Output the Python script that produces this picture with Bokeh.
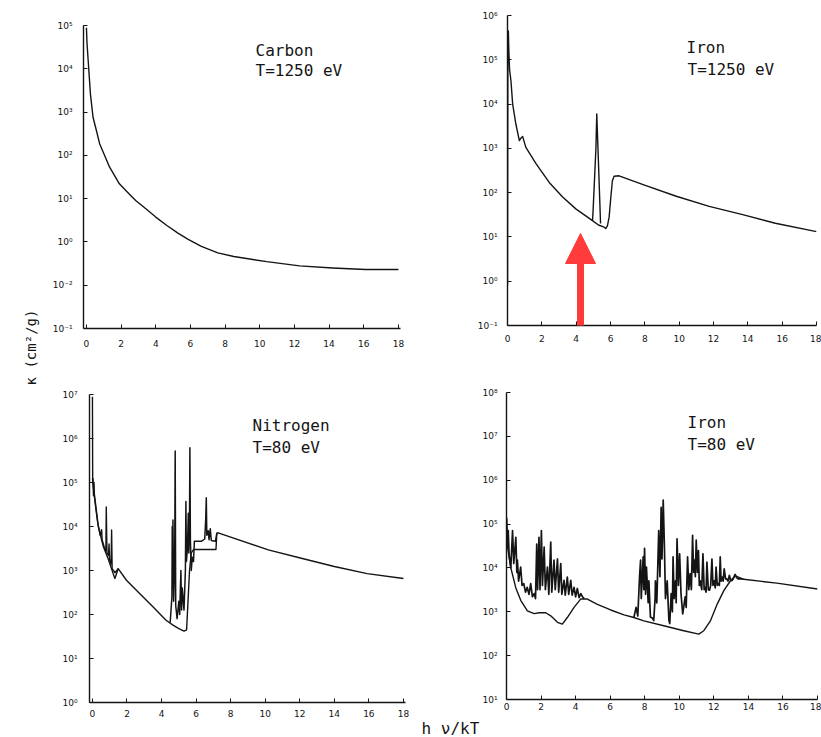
import json
import math
from bokeh.plotting import figure
from bokeh.layouts import row, column
from bokeh.models import (Label, Arrow, NormalHead, FixedTicker,
                          CustomJSTickFormatter, Range1d)
from bokeh.embed import file_html
from bokeh.resources import INLINE

# ---------------------------------------------------------------- data
x_ticks = [0, 2, 4, 6, 8, 10, 12, 14, 16, 18]

carbon_x = [0.0, 0.03, 0.1, 0.23, 0.38, 0.57, 0.76, 1.0, 1.33, 1.9, 2.37, 2.84,
            3.41, 3.98, 4.64, 5.3, 5.87, 6.63, 7.58, 8.5, 10.4, 12.3, 14.2,
            16.1, 18.0]
carbon_k = [8.9e4, 4.0e4, 1.55e4, 2.6e3, 760, 380, 186, 110, 54, 22, 14, 9.1,
            5.9, 3.8, 2.4, 1.58, 1.15, 0.79, 0.56, 0.46, 0.35, 0.28, 0.25,
            0.23, 0.23]

iron_hot_x = [0.0, 0.02, 0.05, 0.08, 0.12, 0.2, 0.3, 0.49, 0.69, 0.78, 0.88,
              1.07, 1.66, 2.43, 3.21, 3.98, 4.95, 5.3, 5.63, 5.72, 5.82, 5.92,
              6.02, 6.11, 6.21, 6.5, 7.9, 9.83, 11.75, 13.7, 15.6, 18.0]
iron_hot_k = [0.8, 2.0e5, 4.5e5, 1.5e5, 6.0e4, 3.4e4, 1.0e4, 3.5e3, 1.5e3,
              1.7e3, 1.86e3, 1.05e3, 450, 170, 80, 43, 23.4, 18.6, 16.6, 15.5,
              17.8, 28, 80, 186, 234, 240, 151, 83, 49, 32, 20.4, 13.2]
iron_hot_line_x = [4.95, 4.98, 5.15, 5.2, 5.27, 5.42]
iron_hot_line_k = [23, 35, 1000, 6000, 1000, 20]

nitrogen_x = [0.0, 0.05, 0.15, 0.34, 0.63, 0.92, 1.2, 1.3, 1.49, 1.97, 2.73,
              3.5, 4.26, 4.64, 5.0, 5.3, 5.45, 5.52, 5.62, 5.72, 5.85, 7.15,
              7.2, 7.32, 10.18, 12.09, 14.0, 15.9, 18.0]
nitrogen_k = [1.26e5, 7.9e4, 4.1e4, 1.0e4, 3.5e3, 1.8e3, 850, 660, 1.1e3, 600,
              300, 150, 74, 58, 48, 42, 45, 160, 1000, 2500, 3000, 3000,
              7100, 7100, 2950, 1900, 1230, 850, 660]
nitrogen_lines_x = [0.0, 0.015, 0.03, 0.06, 0.09, 0.12, 0.2, 0.3, 0.45, 0.53,
                    0.56, 0.7, 0.78, 0.8, 0.84, 0.93, 0.96, 0.99, 1.08, 1.11,
                    1.14, 1.3, 1.49]
nitrogen_lines_k = [8.9e6, 1.0e5, 1.26e5, 5.0e4, 1.0e5, 4.5e4, 2.5e4, 1.26e4,
                    6300, 8500, 5000, 3200, 2800, 2.8e4, 2500, 2200, 4000,
                    1800, 1400, 8300, 1100, 890, 1100]
nitrogen_edge_x = [4.5, 4.6, 4.62, 4.64, 4.66, 4.7, 4.76, 4.79, 4.82, 4.9,
                   5.0, 5.05, 5.12, 5.16, 5.2, 5.3, 5.38, 5.41, 5.44, 5.5,
                   5.55, 5.58, 5.62, 5.64, 5.67, 5.72, 5.78, 5.85, 5.9, 6.3,
                   6.5, 6.56, 6.59, 6.62, 6.7, 6.75, 6.82, 6.88, 7.12, 7.2]
nitrogen_edge_k = [66, 250, 1.0e4, 400, 1.4e4, 200, 1600, 5.2e5, 160, 80,
                   200, 100, 1000, 126, 400, 126, 1000, 3.7e4, 1600, 3200,
                   2.0e4, 2500, 1.6e4, 6.2e5, 5000, 1000, 2000, 1600, 4600,
                   4600, 5200, 1.6e4, 4.5e4, 6300, 8000, 5000, 8900, 4800,
                   4600, 7100]

iron_cool_x = [0.0, 0.06, 0.25, 0.54, 0.83, 1.21, 1.6, 1.89, 2.27, 2.56, 2.95,
               3.23, 3.52, 3.91, 4.29, 4.68, 5.26, 6.03, 6.8, 7.37, 7.95, 9.1,
               10.26, 11.13, 11.42, 11.8, 12.19, 12.57, 12.96, 13.25, 13.73,
               15.65, 18.0]
iron_cool_k = [1.4e5, 3.0e4, 1.0e4, 3500, 1800, 1050, 910, 950, 950, 810, 575,
               525, 740, 1260, 1950, 1950, 1480, 1100, 850, 740, 620, 480, 370,
               310, 370, 620, 1480, 3000, 5100, 6600, 5500, 4500, 3300]
iron_cool_lines_a_x = [0.0, 0.05, 0.1, 0.15, 0.25, 0.35, 0.42, 0.54, 0.6, 0.63,
                       0.7, 0.82, 0.9, 1.0, 1.1, 1.2, 1.3, 1.4, 1.5, 1.6, 1.68,
                       1.75, 1.8, 1.88, 1.94, 2.02, 2.08, 2.18, 2.25, 2.37,
                       2.45, 2.56, 2.62, 2.75, 2.82, 2.95, 3.02, 3.14, 3.2,
                       3.33, 3.4, 3.52, 3.6, 3.72, 3.8, 3.91, 4.0, 4.1, 4.2,
                       4.3, 4.4, 4.5]
iron_cool_lines_a_k = [1.4e5, 3.2e4, 7.1e4, 2.0e4, 1.0e4, 7.1e4, 1.26e4, 5.0e4,
                       7900, 1.5e4, 5000, 1.05e4, 4000, 4400, 2800, 3600, 2500,
                       4400, 2200, 2600, 2000, 3.5e4, 3200, 5.0e4, 3200,
                       7.1e4, 4000, 3.0e4, 3200, 1.05e4, 2500, 3.9e4, 2800,
                       1.5e4, 3200, 1.6e4, 2800, 1.26e4, 2500, 5200, 2400,
                       6200, 2500, 5200, 2400, 3600, 2200, 3400, 2100, 2600,
                       2200, 2000]
iron_cool_lines_b_x = [7.37, 7.5, 7.6, 7.7, 7.76, 7.8, 7.91, 7.95, 7.99, 8.05,
                       8.1, 8.2, 8.24, 8.33, 8.45, 8.52, 8.6, 8.62, 8.7, 8.81,
                       8.88, 8.95, 9.0, 9.07, 9.14, 9.2, 9.3, 9.4, 9.45, 9.53,
                       9.6, 9.64, 9.7, 9.78, 9.82, 9.87, 9.95, 10.02, 10.1,
                       10.2, 10.34, 10.4, 10.48, 10.55, 10.63, 10.7, 10.77,
                       10.83, 10.88, 10.93, 10.98, 11.05, 11.11, 11.16, 11.21,
                       11.3, 11.37, 11.44, 11.5, 11.55, 11.6, 11.68, 11.75,
                       11.82, 11.89, 11.95, 12.02, 12.08, 12.13, 12.2, 12.27,
                       12.32, 12.37, 12.42, 12.48, 12.54, 12.6, 12.68, 12.75,
                       12.82, 12.9, 12.97, 13.04, 13.12, 13.23, 13.32, 13.42,
                       13.71]
iron_cool_lines_b_k = [740, 1260, 800, 6300, 1.5e4, 2000, 1.8e4, 3200, 2.8e4,
                       2500, 1.05e4, 1600, 5100, 760, 710, 630, 2000, 5100,
                       1600, 7.1e4, 6300, 2.4e5, 1.6e4, 3.5e5, 3.0e4, 2000,
                       5100, 630, 540, 2600, 1000, 1.8e4, 2000, 5100, 1600,
                       4.6e4, 4000, 2.1e4, 2600, 890, 2200, 1260, 1.8e4, 3200,
                       7400, 3200, 5.5e4, 7900, 1.5e4, 6300, 4.3e4, 7900,
                       2.5e4, 4000, 5100, 3200, 2.1e4, 3200, 3600, 2800,
                       1.35e4, 3200, 3100, 4000, 1.6e4, 4000, 5100, 3500,
                       1.05e4, 4000, 4400, 4000, 1.8e4, 5000, 6200, 5000, 9500,
                       5600, 5600, 5000, 6800, 5200, 5100, 5600, 7100, 6000,
                       5600, 5600]

# y tick labels as printed on each panel (exponent -> label)
carbon_ylabels = {5: "10⁵", 4: "10⁴", 3: "10³", 2: "10²", 1: "10¹",
                  0: "10⁰", -1: "10⁻²", -2: "10⁻¹"}
iron_hot_ylabels = {6: "10⁶", 5: "10⁵", 4: "10⁴", 3: "10³", 2: "10²",
                    1: "10¹", 0: "10⁰", -1: "10⁻¹"}
nitrogen_ylabels = {7: "10⁷", 6: "10⁶", 5: "10⁵", 4: "10⁴", 3: "10³",
                    2: "10²", 1: "10¹", 0: "10⁰"}
iron_cool_ylabels = {8: "10⁸", 7: "10⁷", 6: "10⁶", 5: "10⁵", 4: "10⁴",
                     3: "10³", 2: "10²", 1: "10¹"}

# ---------------------------------------------------------------- style
INK = "#141414"
MONO = "DejaVu Sans Mono"
SANS = "DejaVu Sans"
RED = "#ff3b3b"
LEFT_STRIP = 44
TEXT_DY = -6   # baseline correction for the panel titles


def to_data(g, px, py):
    x = g["x0"] + (px - g["fl"]) / (g["fr"] - g["fl"]) * (g["x1"] - g["x0"])
    e = g["e1"] - (py - g["ft"]) / (g["fb"] - g["ft"]) * (g["e1"] - g["e0"])
    return x, 10 ** e


def make_panel(g, ylabels, xstand, ystand):
    p = figure(width=g["w"], height=g["h"], title=None,
               x_range=Range1d(g["x0"], g["x1"]),
               y_range=Range1d(10 ** g["e0"], 10 ** g["e1"]),
               y_axis_type="log", output_backend="svg", toolbar_location=None,
               min_border_left=g["fl"] - g["left"],
               min_border_right=g["left"] + g["w"] - g["fr"],
               min_border_top=g["ft"] - g["top"],
               min_border_bottom=g["top"] + g["h"] - g["fb"])
    if p.title is not None:
        p.title.visible = False
    p.outline_line_color = None
    p.grid.visible = False
    p.background_fill_color = "white"
    p.border_fill_color = "white"
    for ax in (p.xaxis[0], p.yaxis[0]):
        ax.axis_line_color = INK
        ax.axis_line_width = 1.4
        ax.major_tick_line_color = INK
        ax.major_tick_line_width = 1
        ax.major_tick_in = 4
        ax.major_tick_out = 0
        ax.minor_tick_line_color = None
        ax.major_label_text_font = SANS
        ax.major_label_text_font_size = "9px"
        ax.major_label_text_color = INK
    p.xaxis[0].ticker = FixedTicker(ticks=x_ticks)
    p.xaxis[0].major_label_standoff = xstand
    p.yaxis[0].ticker = FixedTicker(ticks=[10.0 ** e for e in ylabels])
    p.yaxis[0].major_label_standoff = ystand
    mapping = json.dumps({str(k): v for k, v in ylabels.items()})
    p.yaxis[0].formatter = CustomJSTickFormatter(code=(
        "const m = " + mapping + ";\n"
        "const e = Math.round(Math.log10(tick));\n"
        "return (String(e) in m) ? m[String(e)] : '';"))
    return p


def add_title(p, g, lines):
    for text, px, py in lines:
        x, y = to_data(g, px, py + TEXT_DY)
        p.add_layout(Label(x=x, y=y, text=text, text_font=MONO,
                           text_font_size="16px", text_color=INK,
                           text_align="left", text_baseline="alphabetic"))


def curve(p, xs, ks, width=1.4):
    p.line(xs, ks, line_color=INK, line_width=width, line_join="round")


def blank(width, height, xr, yr):
    s = figure(width=width, height=height, title=None,
               x_range=Range1d(*xr), y_range=Range1d(*yr),
               output_backend="svg", toolbar_location=None, min_border=0)
    if s.title is not None:
        s.title.visible = False
    s.axis.visible = False
    s.grid.visible = False
    s.outline_line_color = None
    return s


# panel geometry (page pixels)
g_tl = dict(left=LEFT_STRIP, top=0, w=410 - LEFT_STRIP, h=360,
            fl=83, fr=400, ft=25, fb=328, x0=-0.17, x1=18.12, e0=-2, e1=5)
g_tr = dict(left=410, top=0, w=411, h=360,
            fl=507, fr=816, ft=15, fb=325, x0=0.0, x1=18.0, e0=-1, e1=6)
g_bl = dict(left=LEFT_STRIP, top=360, w=410 - LEFT_STRIP, h=377,
            fl=89, fr=405, ft=394, fb=702, x0=-0.17, x1=18.12, e0=0, e1=7)
g_br = dict(left=410, top=360, w=411, h=358,
            fl=506, fr=817, ft=392, fb=699, x0=0.0, x1=18.0, e0=1, e1=8)

# ---- Carbon
p_tl = make_panel(g_tl, carbon_ylabels, 11, 11)
curve(p_tl, carbon_x, carbon_k)
add_title(p_tl, g_tl, [("Carbon", 255, 56), ("T=1250  eV", 255, 76)])

# ---- Iron, hot
p_tr = make_panel(g_tr, iron_hot_ylabels, 9, 10)
curve(p_tr, iron_hot_x, iron_hot_k)
curve(p_tr, iron_hot_line_x, iron_hot_line_k, 1.4)
add_title(p_tr, g_tr, [("Iron", 686, 53), ("T=1250  eV", 687, 75)])
ax0, ay0 = to_data(g_tr, 580, 343)
ax1, ay1 = to_data(g_tr, 580, 233)
p_tr.add_layout(Arrow(end=NormalHead(size=30, fill_color=RED, line_color=RED),
                      x_start=ax0, y_start=ay0, x_end=ax1, y_end=ay1,
                      line_color=RED, line_width=7))

# ---- Nitrogen
p_bl = make_panel(g_bl, nitrogen_ylabels, 7, 12)
curve(p_bl, nitrogen_x, nitrogen_k)
curve(p_bl, nitrogen_lines_x, nitrogen_lines_k, 1.4)
curve(p_bl, nitrogen_edge_x, nitrogen_edge_k, 1.5)
add_title(p_bl, g_bl, [("Nitrogen", 252, 431), ("T=80  eV", 252, 453)])

# ---- Iron, cool
p_br = make_panel(g_br, iron_cool_ylabels, 3, 9)
curve(p_br, iron_cool_x, iron_cool_k)
curve(p_br, iron_cool_lines_a_x, iron_cool_lines_a_k, 1.7)
curve(p_br, iron_cool_lines_b_x, iron_cool_lines_b_k, 1.7)
add_title(p_br, g_br, [("Iron", 687, 428), ("T=80  eV", 687, 450)])

# ---- strip under the lower right panel with the shared x label
h_strip = blank(411, 737 - 718, (410, 821), (737, 718))
h_strip.add_layout(Label(x=421, y=734 + TEXT_DY, text="h ν/kT", text_font=MONO,
                         text_font_size="16px", text_color=INK,
                         text_align="left", text_baseline="alphabetic"))

# ---- left strip with the shared y label
k_strip = blank(LEFT_STRIP, 737, (0, LEFT_STRIP), (737, 0))
k_strip.add_layout(Label(x=30, y=347, text="κ (cm²/g)", text_font=MONO,
                         text_font_size="14px", text_color=INK,
                         angle=math.pi / 2, text_align="center",
                         text_baseline="middle"))

# every plot sits in its own column so that no two frames get aligned
layout = row(k_strip,
             column(row(column(p_tl), column(p_tr)),
                    row(column(p_bl),
                        column(column(p_br), column(h_strip)))))

open("out.html", "w").write(file_html(layout, INLINE))
